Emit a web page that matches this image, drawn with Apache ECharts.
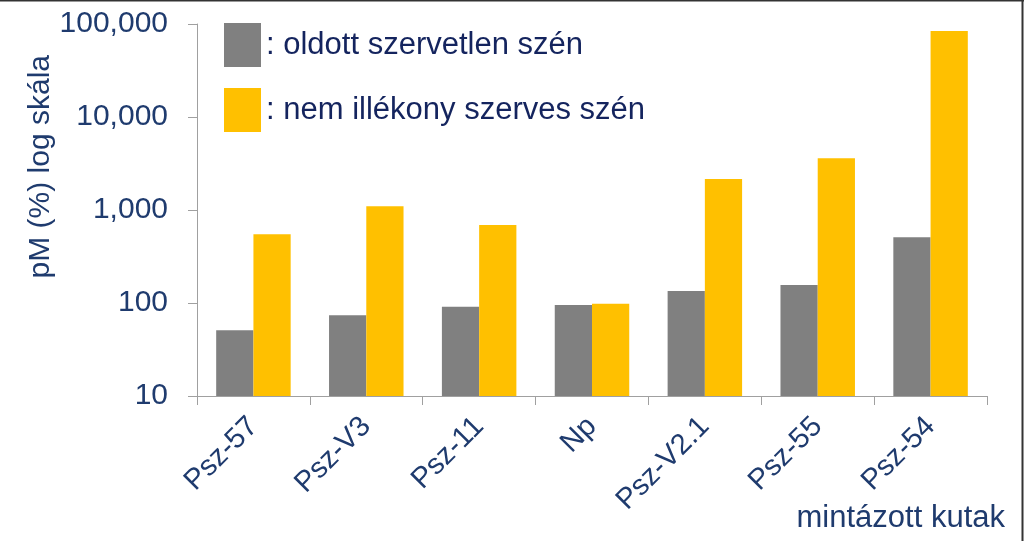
<!DOCTYPE html>
<html>
<head>
<meta charset="utf-8">
<script src="https://cdn.jsdelivr.net/npm/echarts@6/dist/echarts.min.js"></script>
<style>html,body{margin:0;padding:0;background:#fff}#c{width:1024px;height:541px}</style>
</head>
<body>
<div id="c"></div>
<script>
const categories = ['Psz-57', 'Psz-V3', 'Psz-11', 'Np', 'Psz-V2.1', 'Psz-55', 'Psz-54'];
const seriesNames = ['oldott szervetlen szén', 'nem illékony szerves szén'];
const oldottValues = [51, 74, 91, 95, 135, 156, 510];
const nemIllekonyValues = [550, 1100, 690, 98, 2150, 3600, 84000];
const yAxisTitle = 'pM (%) log skála';
const xAxisTitle = 'mintázott kutak';

const textColor = '#1f3b6e';
const legendColor = '#14245e';
const font = 'Liberation Sans, Arial, sans-serif';

const chart = echarts.init(document.getElementById('c'), null, {renderer: 'canvas'});
chart.setOption({
  animation: false,
  backgroundColor: '#fff',
  grid: {left: 197, right: 37, top: 24, bottom: 145, containLabel: false},
  legend: {
    orient: 'vertical', left: 224, top: 23, padding: 0,
    itemWidth: 37, itemHeight: 44, itemGap: 21, itemTextGap: 7,
    icon: 'rect',
    formatter: n => ': ' + n,
    textStyle: {color: legendColor, fontSize: 31, fontFamily: font},
    data: seriesNames
  },
  xAxis: {
    type: 'category', data: categories,
    axisLine: {lineStyle: {color: '#a0a0a0', width: 1}},
    axisTick: {show: true, length: 9, lineStyle: {color: '#a0a0a0'}},
    axisLabel: {rotate: 45, color: textColor, fontSize: 29, fontFamily: font, margin: 26}
  },
  yAxis: {
    type: 'log', logBase: 10, min: 10, max: 100000,
    axisLine: {show: true, lineStyle: {color: '#a0a0a0', width: 1}},
    axisTick: {show: true, length: 9, lineStyle: {color: '#a0a0a0'}},
    splitLine: {show: false},
    minorTick: {show: false},
    axisLabel: {color: textColor, fontSize: 30, fontFamily: font, margin: 29,
      formatter: v => Math.round(v).toLocaleString('en-US')}
  },
  series: [
    {name: seriesNames[0], type: 'bar', data: oldottValues, barWidth: '33%', barGap: '0%',
      itemStyle: {color: '#808080'}},
    {name: seriesNames[1], type: 'bar', data: nemIllekonyValues, barWidth: '33%', barGap: '0%',
      itemStyle: {color: '#FFC000'}}
  ],
  graphic: [
    {type: 'text', left: 26, top: 55, rotation: Math.PI/2,
      style: {text: yAxisTitle, fill: textColor, fontSize: 30, fontFamily: font}},
    {type: 'text', right: 19, top: 503,
      style: {text: xAxisTitle, fill: textColor, fontSize: 31, fontFamily: font}},
    {type: 'line', shape: {x1: 0, y1: 0.5, x2: 1024, y2: 0.5}, style: {stroke: '#333', lineWidth: 2}},
    {type: 'line', shape: {x1: 1022.5, y1: 0, x2: 1022.5, y2: 541}, style: {stroke: '#333', lineWidth: 2}}
  ]
});
</script>
</body>
</html>
